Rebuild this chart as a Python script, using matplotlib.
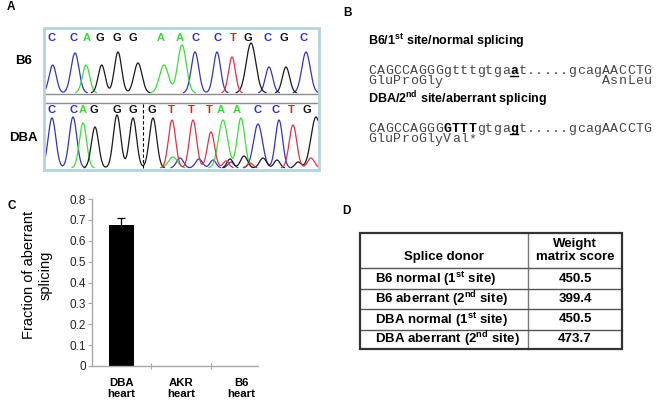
import numpy as np
import matplotlib
matplotlib.use('Agg')
import matplotlib.pyplot as plt

plt.rcParams['font.family'] = 'Liberation Sans'
plt.rcParams['mathtext.fontset'] = 'custom'
plt.rcParams['mathtext.rm'] = 'Liberation Sans'
plt.rcParams['mathtext.bf'] = 'Liberation Sans:bold'
plt.rcParams['mathtext.default'] = 'bf'

# ---- panel A: base calls and trace peaks (x, height, width), pixel units
b6_bases = "CCAGGGAACCTGCGC"
b6_base_x = [52, 73, 87, 100, 117, 133, 161, 180, 195, 217, 233, 248, 268, 284, 303]
dba_bases = "CCAGGGGTTTAACCTG"
dba_base_x = [52, 73, 83, 94, 117, 133, 152, 171, 191, 209, 221, 237, 257, 275, 291, 307]

b6_peaks = {
    'C': [(52.7, 28, 3.6), (75, 40, 4.0), (195, 41, 3.8), (217, 41, 3.6),
          (269, 26, 3.6), (306, 41, 4.2)],
    'A': [(86, 28, 3.6), (164, 28, 4.5), (182, 48, 4.3)],
    'G': [(101.7, 28, 3.5), (118, 41, 3.6), (138, 30, 4.0), (251, 50, 4.8),
          (286, 26, 3.6)],
    'T': [(232, 36, 3.4)],
}
dba_peaks = {
    'C': [(52, 50, 3.8), (73, 51, 3.8), (258, 44, 4.5), (279, 48, 3.6),
          (180, 10, 3.5), (199, 9, 3.5), (213, 8, 3.0), (231, 6, 3.0)],
    'A': [(83, 45, 3.6), (223, 48, 4.6), (241, 50, 3.8), (173, 11, 4.5)],
    'G': [(95, 41, 3.6), (117, 53, 3.7), (133, 50, 3.6), (153, 50, 3.7),
          (316, 51, 5.0), (230, 9, 3.0), (244, 12, 3.5), (263, 10, 3.5),
          (277, 8, 3.0), (298, 6, 3.0)],
    'T': [(172, 48, 3.6), (193, 48, 3.6), (211, 36, 3.6), (293, 43, 3.8),
          (226, 7, 3.0), (250, 5, 3.0), (311, 10, 3.5)],
}
dba_break = 143

# ---- panel B: sequences
head1 = "B6/1$^{st}$ site/normal splicing"
head2 = "DBA/2$^{nd}$ site/aberrant splicing"
seq1 = [("CAGCCAGGGgtttgtga", 'normal', False), ("a", 'bold', True),
        ("t.....gcagAACCTG", 'normal', False)]
seq2 = [("CAGCCAGGG", 'normal', False), ("GTTT", 'bold', False),
        ("gtga", 'normal', False), ("g", 'bold', True),
        ("t.....gcagAACCTG", 'normal', False)]
aa1 = [("GluProGly", 0), ("AsnLeu", 28)]
aa2 = [("GluProGlyVal*", 0)]

# ---- panel C: bar chart
strains = ['DBA\nheart', 'AKR\nheart', 'B6\nheart']
frac = [0.675, 0.0, 0.0]
frac_err = [0.035, np.nan, np.nan]
yticks = [0, 0.1, 0.2, 0.3, 0.4, 0.5, 0.6, 0.7, 0.8]
ytick_labels = ['0', '0.1', '0.2', '0.3', '0.4', '0.5', '0.6', '0.7', '0.8']

# ---- panel D: table
donors = ["B6 normal (1$^{st}$ site)", "B6 aberrant (2$^{nd}$ site)",
          "DBA normal (1$^{st}$ site)", "DBA aberrant (2$^{nd}$ site)"]
scores = ["450.5", "399.4", "450.5", "473.7"]

trace_col = {'C': '#3535b8', 'A': '#3ddc3d', 'G': '#1a1a1a', 'T': '#d8344a'}
base_col = {'C': '#2c2cd6', 'A': '#33dd33', 'G': '#111111', 'T': '#e02020'}

fig = plt.figure(figsize=(6.61, 4.01), dpi=100)
ax = fig.add_axes([0, 0, 1, 1])
ax.set_xlim(0, 661)
ax.set_ylim(401, 0)
ax.axis('off')

lab = dict(fontsize=8.5, fontweight='bold', va='center')
ax.text(7, 7, 'A', **lab)
ax.text(343, 13, 'B', **lab)
ax.text(7, 206, 'C', **lab)
ax.text(342, 211, 'D', **lab)

# chromatogram
bx0, bx1, by0, by1 = 44, 319, 28, 170
xs = np.arange(bx0 + 1.5, bx1 - 1, 0.25)


def draw_trace(peaks, base_y):
    for b, plist in peaks.items():
        y = np.zeros_like(xs)
        for c, h, s in plist:
            y += h * np.exp(-(xs - c) ** 2 / (2 * s * s))
        y[y < 0.4] = np.nan
        ax.plot(xs, base_y - y, color=trace_col[b], lw=0.9, zorder=3)


draw_trace(b6_peaks, 93)
draw_trace(dba_peaks, 168)
for b, x in zip(b6_bases, b6_base_x):
    ax.text(x, 38, b, color=base_col[b], fontsize=8, fontweight='bold',
            ha='center', va='center')
for b, x in zip(dba_bases, dba_base_x):
    ax.text(x, 110, b, color=base_col[b], fontsize=8, fontweight='bold',
            ha='center', va='center')
ax.plot([dba_break, dba_break], [104, 168], color='black', lw=0.8,
        ls=(0, (3, 2)), zorder=4)
ax.plot([bx0, bx1], [93.5, 93.5], color='#8c8c8c', lw=1, zorder=2)
ax.plot([bx0, bx1], [103, 103], color='#8c8c8c', lw=1, zorder=2)
ax.add_patch(plt.Rectangle((bx0, by0), bx1 - bx0, by1 - by0, fill=False,
                           edgecolor='#b4d4dc', lw=2, zorder=5))
ax.text(24, 61, 'B6', fontsize=9.5, fontweight='bold', ha='center', va='center')
ax.text(23, 138, 'DBA', fontsize=9.5, fontweight='bold', ha='center', va='center')

# sequences, one character per fixed-width cell
mono_fs = 9.5
cw = 8.35
sx0 = 368
seq_col = '#444444'


def draw_mono(txt, i0, base_y, wt='normal', col=seq_col):
    for j, ch in enumerate(txt):
        ax.text(sx0 + (i0 + j + 0.5) * cw, base_y, ch, family='Liberation Mono',
                fontsize=mono_fs, fontweight=wt, va='baseline', ha='center',
                color=col)


def draw_seq(parts, base_y):
    i = 0
    for txt, wt, ul in parts:
        draw_mono(txt, i, base_y, wt, 'black' if wt == 'bold' else seq_col)
        if ul:
            ax.plot([sx0 + i * cw + 0.5, sx0 + (i + len(txt)) * cw - 0.5],
                    [base_y + 2, base_y + 2], color='black', lw=1)
        i += len(txt)


ax.text(sx0, 41, head1, fontsize=9, fontweight='bold', va='center')
draw_seq(seq1, 74)
for txt, i in aa1:
    draw_mono(txt, i, 84.5)
ax.text(sx0, 99, head2, fontsize=9, fontweight='bold', va='center')
draw_seq(seq2, 132)
for txt, i in aa2:
    draw_mono(txt, i, 142.5)

# table
tl, tr, tt, tb, tc = 360, 622, 233, 349, 528
row_lines = [268, 289, 309, 330]
ax.add_patch(plt.Rectangle((tl, tt), tr - tl, tb - tt, fill=False,
                           edgecolor='#333333', lw=1.6, zorder=5))
ax.plot([tc, tc], [tt, tb], color='#777777', lw=1)
for yl in row_lines:
    ax.plot([tl, tr], [yl, yl], color='#555555', lw=1)
tx = dict(fontsize=9.5, fontweight='bold', va='center')
ax.text((tl + tc) / 2, 257, 'Splice donor', ha='center', **tx)
ax.text((tc + tr) / 2, 250.5, 'Weight\nmatrix score', ha='center',
        linespacing=1.05, **tx)
edges = row_lines + [tb]
for k, (d, s) in enumerate(zip(donors, scores)):
    yc = (edges[k] + edges[k + 1]) / 2
    ax.text(375, yc, d, ha='left', **tx)
    ax.text((tc + tr) / 2, yc, s, ha='center', **tx)

# bar chart
ax_c = fig.add_axes([91.5 / 661, 1 - 366 / 401, 166 / 661, 167 / 401])
ax_c.patch.set_alpha(0)
xpos = np.arange(len(strains))
ax_c.bar(xpos, frac, width=0.42, color='black', linewidth=0)
ax_c.errorbar(xpos, frac, yerr=frac_err, fmt='none', ecolor='black',
              elinewidth=0.9, capsize=2.9, capthick=0.9)
ax_c.set_xlim(-0.5, 2.27)
ax_c.set_ylim(0, 0.8)
for sp in ['top', 'right']:
    ax_c.spines[sp].set_visible(False)
for sp in ['left', 'bottom']:
    ax_c.spines[sp].set_color('#a8a8a8')
    ax_c.spines[sp].set_linewidth(1)
ax_c.set_yticks(yticks)
ax_c.set_yticklabels(ytick_labels)
ax_c.tick_params(axis='y', length=3, width=0.8, color='#a8a8a8', pad=1,
                 labelsize=8.5, labelcolor='#222222')
ax_c.set_xticks(xpos)
ax_c.set_xticklabels(strains, fontsize=8.2, fontweight='bold', linespacing=1.1)
ax_c.set_xticks([0.5, 1.5], minor=True)
ax_c.tick_params(axis='x', which='major', length=0, pad=9)
ax_c.tick_params(axis='x', which='minor', length=4, width=0.8,
                 color='#a8a8a8', direction='inout')
ax_c.set_ylabel('Fraction of aberrant\nsplicing', fontsize=10.5,
                linespacing=1.25)
ax_c.yaxis.set_label_coords(-0.235, 0.545)

fig.savefig('out.png', dpi=100)
